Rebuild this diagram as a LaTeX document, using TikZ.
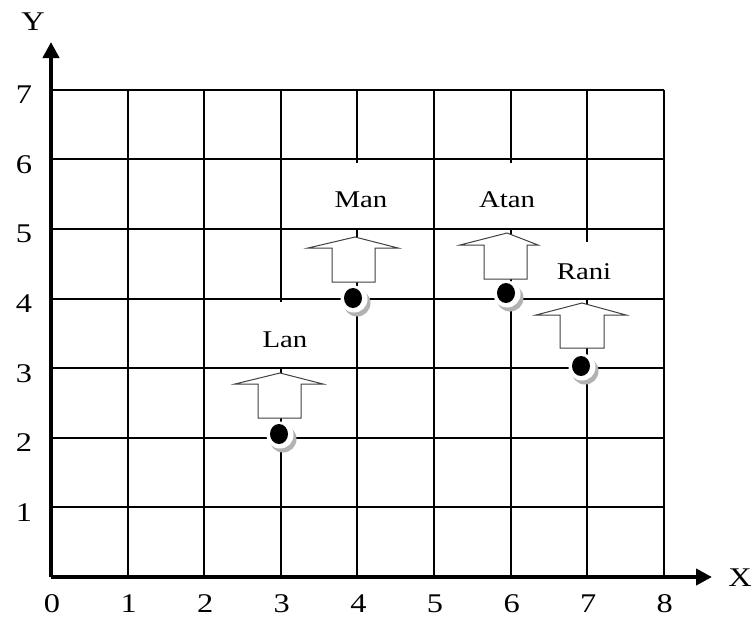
\documentclass[tikz,border=0pt]{standalone}
\usepackage{fontspec}
\setmainfont{Liberation Serif}
\usetikzlibrary{arrows.meta}
\newcommand{\wtxt}[1]{\scalebox{1.2}[1]{#1}}
\tikzset{
  gridline/.style={line width=2.1pt,black},
  axisline/.style={line width=4.3pt,black,-{Triangle[length=16pt,width=16pt]}},
  ticklbl/.style={font=\fontsize{27}{27}\selectfont,inner sep=0pt},
  namelbl/.style={font=\fontsize{24}{24}\selectfont,inner sep=0pt},
  coverbox/.style={fill=white,draw=none},
  blockarrow/.style={fill=white,draw=black!75,line width=1pt,line join=miter},
}
\begin{document}
\begin{tikzpicture}[x=1pt,y=-1pt]
\useasboundingbox (0,0) rectangle (753,619);
% grid
\foreach \i in {1,...,8} {
  \draw[gridline] ({51+76.6*\i},577) -- ({51+76.6*\i},89.8);
}
\foreach \j in {1,...,7} {
  \draw[gridline] (51,{577-69.6*\j}) -- (663.8,{577-69.6*\j});
}
% axes
\coordinate (O) at (51,577);
\coordinate (xend) at (712,577);
\coordinate (yend) at (51,42);
\draw[axisline] (O) -- (xend);
\draw[axisline] (O) -- (yend);
\node[ticklbl] (xl) at (740,578) {\wtxt{X}};
\node[ticklbl] (yl) at (33,22) {\wtxt{Y}};
\foreach \i in {0,...,8} {
  \node[ticklbl] (xt\i) at ({52+76.6*\i},604) {\wtxt{\i}};
}
\foreach \j in {1,...,7} {
  \node[ticklbl] (yt\j) at (24,{582-69.6*\j}) {\wtxt{\j}};
}
% label cover boxes
\fill[coverbox] (235,302) rectangle (340,366.5);
\fill[coverbox] (308,163) rectangle (410,227.5);
\fill[coverbox] (458,163) rectangle (556,227.5);
\fill[coverbox] (535,242) rectangle (633,297.5);
% block arrows: tip, head base, head left/right, shaft left/right, bottom
\draw[blockarrow] (280,373) -- (323,384) -- (301,384) -- (301,418) -- (258,418) -- (258,384) -- (235,384) -- cycle;
\draw[blockarrow] (355,237) -- (398,248) -- (375,248) -- (375,282) -- (332,282) -- (332,248) -- (308,248) -- cycle;
\draw[blockarrow] (507,233) -- (538,245) -- (527,245) -- (527,279) -- (484,279) -- (484,245) -- (460,245) -- cycle;
\draw[blockarrow] (582,303) -- (626,315) -- (604,315) -- (604,348) -- (560,348) -- (560,315) -- (536,315) -- cycle;
% dots
\foreach \n/\cx/\cy in {lan/279/434, man/353/298, atan/506/293, rani/581/366} {
  \fill[black!30] (\cx+4,\cy+5) circle (13.5);
  \fill[white] (\cx+1,\cy+1) circle (13.5);
  \fill[black] (\cx,\cy) ellipse (9 and 10);
  \coordinate (\n dot) at (\cx,\cy);
}
% names
\node[namelbl] (lan) at (285,340) {\wtxt{Lan}};
\node[namelbl] (man) at (361,200) {\wtxt{Man}};
\node[namelbl] (atan) at (507,200) {\wtxt{Atan}};
\node[namelbl] (rani) at (584,272) {\wtxt{Rani}};
\end{tikzpicture}
\end{document}
